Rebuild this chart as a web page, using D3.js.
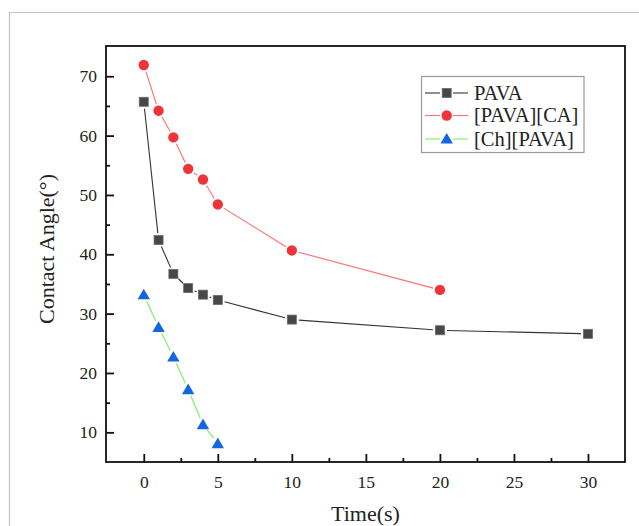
<!DOCTYPE html>
<html>
<head>
<meta charset="utf-8">
<script src="https://cdn.jsdelivr.net/npm/d3@7"></script>
<style>
  html, body { margin: 0; padding: 0; background: #fff; }
  svg { display: block; }
  svg text { font-family: "Liberation Serif", "Times New Roman", serif !important; fill: #222; }
</style>
</head>
<body>
<svg id="chart" width="639" height="526"></svg>
<script>
// Contact angle measurements over time (seconds)
const timePAVA = [0, 1, 2, 3, 4, 5, 10, 20, 30];
const anglePAVA = [65.7, 42.4, 36.7, 34.3, 33.2, 32.3, 29.0, 27.2, 26.6];

const timePAVACA = [0, 1, 2, 3, 4, 5, 10, 20];
const anglePAVACA = [71.9, 64.2, 59.7, 54.4, 52.6, 48.4, 40.65, 34.0];

const timeChPAVA = [0, 1, 2, 3, 4, 5];
const angleChPAVA = [33.2, 27.7, 22.7, 17.2, 11.3, 8.1];

const seriesNames = ["PAVA", "[PAVA][CA]", "[Ch][PAVA]"];
const xTicks = [0, 5, 10, 15, 20, 25, 30];
const yTicks = [10, 20, 30, 40, 50, 60, 70];

const series = [
  { name: seriesNames[0], t: timePAVA, v: anglePAVA, line: "#333333", fill: "#474747", stroke: "#6a6a6a", shape: "square" },
  { name: seriesNames[1], t: timePAVACA, v: anglePAVACA, line: "#ff7070", fill: "#ee3438", stroke: "#ee3438", shape: "circle" },
  { name: seriesNames[2], t: timeChPAVA, v: angleChPAVA, line: "#78f060", fill: "#1565e0", stroke: "#1565e0", shape: "triangle" }
];

const serif = "'Liberation Serif', 'Times New Roman', serif";
const svg = d3.select("#chart");

// outer light frame
svg.append("path")
  .attr("d", "M9.5,526 V12.5 H639")
  .attr("fill", "none").attr("stroke", "#c4c4c4").attr("stroke-width", 1.2);

const plot = { left: 106, right: 625, top: 46, bottom: 462 };

const x = d3.scaleLinear().domain([-2.55, 32.5]).range([plot.left, plot.right]);
const y = d3.scaleLinear().domain([5, 75.1]).range([plot.bottom, plot.top]);

// plot frame
svg.append("rect")
  .attr("x", plot.left).attr("y", plot.top)
  .attr("width", plot.right - plot.left).attr("height", plot.bottom - plot.top)
  .attr("fill", "none").attr("stroke", "#111").attr("stroke-width", 1.8);

function styleAxis(g) {
  g.attr("font-family", null).attr("font-size", null);
  g.select(".domain").remove();
  g.selectAll("line").attr("stroke", "#111").attr("stroke-width", 1.8);
  g.selectAll("text").style("font-size", "17.5px").style("font-family", serif).attr("fill", "#222");
}

// bottom axis: major ticks inward, minor ticks between
const xAxis = d3.axisBottom(x).tickValues(xTicks).tickSize(-8).tickPadding(14).tickFormat(d3.format("d"));
svg.append("g").attr("transform", `translate(0,${plot.bottom})`).call(xAxis).call(styleAxis);

const xMinor = d3.axisBottom(x).tickValues(xTicks.slice(0, -1).map(d => d + 2.5)).tickSize(-4).tickFormat("");
svg.append("g").attr("transform", `translate(0,${plot.bottom})`).call(xMinor).call(styleAxis);

// left axis
const yAxis = d3.axisLeft(y).tickValues(yTicks).tickSize(-8).tickPadding(9).tickFormat(d3.format("d"));
svg.append("g").attr("transform", `translate(${plot.left},0)`).call(yAxis).call(styleAxis);

const yMinor = d3.axisLeft(y).tickValues(yTicks.slice(0, -1).map(d => d + 5)).tickSize(-4).tickFormat("");
svg.append("g").attr("transform", `translate(${plot.left},0)`).call(yMinor).call(styleAxis);

// axis titles
svg.append("text")
  .attr("x", (plot.left + plot.right) / 2).attr("y", 521)
  .attr("text-anchor", "middle").style("font-size", "22px").style("font-family", serif)
  .text("Time(s)");
svg.append("text")
  .attr("transform", "translate(54,249) rotate(-90)")
  .attr("text-anchor", "middle").style("font-size", "22px").style("font-family", serif)
  .text("Contact Angle(°)");

// marker drawing
function drawMarker(g, s, cx, cy) {
  if (s.shape === "square") {
    g.append("rect").attr("x", cx - 4.5).attr("y", cy - 4.5).attr("width", 9).attr("height", 9)
      .attr("fill", s.fill).attr("stroke", s.stroke).attr("stroke-width", 0.8);
  } else if (s.shape === "circle") {
    g.append("circle").attr("cx", cx).attr("cy", cy).attr("r", 5.2)
      .attr("fill", s.fill);
  } else {
    g.append("path")
      .attr("d", `M${cx},${cy - 6} L${cx + 6.2},${cy + 4.6} L${cx - 6.2},${cy + 4.6} Z`)
      .attr("fill", s.fill);
  }
}

// connecting segments, trimmed short of each marker
const gap = 7;
series.forEach(s => {
  const pts = s.t.map((t, i) => [x(t), y(s.v[i])]);
  const g = svg.append("g");
  for (let i = 0; i < pts.length - 1; i++) {
    const [x0, y0] = pts[i], [x1, y1] = pts[i + 1];
    const len = Math.hypot(x1 - x0, y1 - y0);
    if (len <= 2 * gap) continue;
    const ux = (x1 - x0) / len, uy = (y1 - y0) / len;
    g.append("line")
      .attr("x1", x0 + ux * gap).attr("y1", y0 + uy * gap)
      .attr("x2", x1 - ux * gap).attr("y2", y1 - uy * gap)
      .attr("stroke", s.line).attr("stroke-width", 1.1);
  }
  pts.forEach(([px, py]) => drawMarker(g, s, px, py));
});

// legend
const leg = svg.append("g");
leg.append("rect").attr("x", 421.5).attr("y", 76.5).attr("width", 162.5).attr("height", 76)
  .attr("fill", "#fff").attr("stroke", "#9a9a9a").attr("stroke-width", 1.2);
const rowY = [93, 115.5, 139];
series.forEach((s, i) => {
  const cy = rowY[i];
  leg.append("line").attr("x1", 425).attr("x2", 440).attr("y1", cy).attr("y2", cy)
    .attr("stroke", s.line).attr("stroke-width", 1.1);
  leg.append("line").attr("x1", 453).attr("x2", 468).attr("y1", cy).attr("y2", cy)
    .attr("stroke", s.line).attr("stroke-width", 1.1);
  drawMarker(leg, s, 446.7, cy);
  leg.append("text").attr("x", 474).attr("y", cy + 6.5)
    .style("font-size", "20.5px").style("font-family", serif).text(s.name);
});
</script>
</body>
</html>
